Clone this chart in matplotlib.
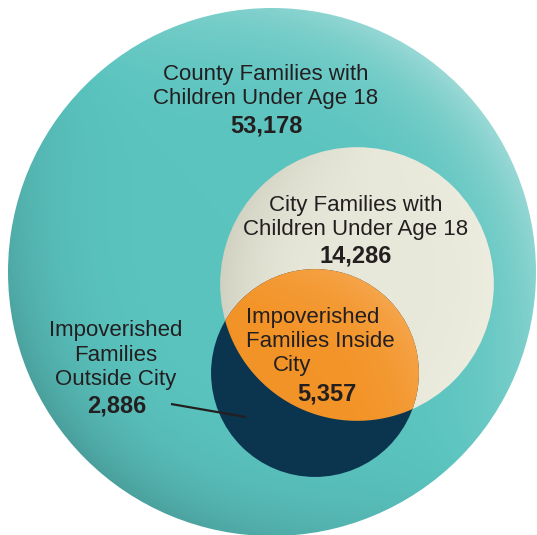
import numpy as np
import matplotlib
matplotlib.use("Agg")
import matplotlib.pyplot as plt
from matplotlib.patches import Circle, PathPatch
from matplotlib.path import Path

# --- Andmed ---
groups = ["County Families with\nChildren Under Age 18",
          "City Families with\nChildren Under Age 18",
          "Impoverished\nFamilies Inside\nCity",
          "Impoverished\nFamilies\nOutside City"]
county_total = 53178
city_total = 14286
poor_inside = 5357
poor_outside = 2886

# --- Paigutus (pikslites, y alla) ---
W, H = 537, 535
R_COUNTY = 264
county_c = (272, 272)
city_c = (357, 284)
poor_c = (315, 373)

# raadiused pindala järgi
r_county = R_COUNTY
r_city = R_COUNTY * np.sqrt(city_total / county_total)
r_poor = R_COUNTY * np.sqrt((poor_inside + poor_outside) / county_total)

TXT = "#231f20"
FONT = "Liberation Sans"
FS = 16
FS_NUM = 17


def hex2rgb(h):
    h = h.lstrip("#")
    return np.array([int(h[i:i + 2], 16) / 255 for i in (0, 2, 4)])


def shaded(ax, center, r, base, light, dark, clip, direction=(1, -1), power=3.0, n=600):
    """Gradient ringi sees, klipitud antud patchiga"""
    cx, cy = center
    x0, x1, y0, y1 = cx - r, cx + r, cy - r, cy + r
    xs = np.linspace(x0, x1, n)
    ys = np.linspace(y0, y1, n)
    X, Y = np.meshgrid(xs, ys)
    dx, dy = (X - cx) / r, (Y - cy) / r
    d = np.array(direction, float)
    d /= np.linalg.norm(d)
    t = dx * d[0] + dy * d[1]
    rr = np.clip(np.sqrt(dx ** 2 + dy ** 2), 0, 1)
    w = rr ** power
    b, lt, dk = hex2rgb(base), hex2rgb(light), hex2rgb(dark)
    img = np.empty(X.shape + (3,))
    pos = np.clip(t, 0, 1) * w
    neg = np.clip(-t, 0, 1) * w
    for k in range(3):
        img[..., k] = b[k] + pos * (lt[k] - b[k]) + neg * (dk[k] - b[k])
    im = ax.imshow(np.clip(img, 0, 1), extent=(x0, x1, y0, y1), origin="lower",
                   interpolation="bilinear", zorder=clip.get_zorder())
    im.set_clip_path(clip)


def lens_path(c1, r1, c2, r2, n=200):
    """Kahe ringi ühisosa kontuur"""
    c1, c2 = np.array(c1, float), np.array(c2, float)
    d = np.linalg.norm(c2 - c1)
    a = (r1 ** 2 - r2 ** 2 + d ** 2) / (2 * d)
    h = np.sqrt(r1 ** 2 - a ** 2)
    u = (c2 - c1) / d
    p = c1 + a * u
    perp = np.array([-u[1], u[0]])
    pa, pb = p + h * perp, p - h * perp

    def ang(c, q):
        return np.arctan2(q[1] - c[1], q[0] - c[0])

    def arc(c, r, q_from, q_to, inside_of, r_in):
        a0, a1 = ang(c, q_from), ang(c, q_to)
        for sweep in (a1 - a0, a1 - a0 - 2 * np.pi, a1 - a0 + 2 * np.pi):
            mid = a0 + sweep / 2
            m = c + r * np.array([np.cos(mid), np.sin(mid)])
            if np.linalg.norm(m - inside_of) < r_in and abs(sweep) < 2 * np.pi:
                th = a0 + np.linspace(0, sweep, n)
                return np.column_stack([c[0] + r * np.cos(th), c[1] + r * np.sin(th)])
        return np.empty((0, 2))

    s1 = arc(c1, r1, pa, pb, c2, r2)
    s2 = arc(c2, r2, pb, pa, c1, r1)
    verts = np.vstack([s1, s2, s1[:1]])
    codes = [Path.MOVETO] + [Path.LINETO] * (len(verts) - 2) + [Path.CLOSEPOLY]
    return Path(verts, codes)


def lines(ax, x, ys, text, ha="center", xs=None):
    """Mitmerealine tekst, iga rida oma baasjoonel"""
    for i, (y, s) in enumerate(zip(ys, text.split("\n"))):
        xx = xs[i] if xs else x
        ax.text(xx, y, s, ha=ha, va="baseline", fontsize=FS, family=FONT,
                color=TXT, zorder=10)


def number(ax, x, y, val):
    ax.text(x, y, f"{val:,}", ha="center", va="baseline", fontsize=FS_NUM,
            fontweight="bold", family=FONT, color=TXT, zorder=10)


fig = plt.figure(figsize=(W / 100, H / 100), dpi=100)
ax = fig.add_axes([0, 0, 1, 1])
ax.axis("off")

# maakond
c_county = Circle(county_c, r_county, facecolor="none", edgecolor="none", zorder=1)
ax.add_patch(c_county)
shaded(ax, county_c, r_county, "#5bc4bf", "#9ad9d6", "#4a9f9c", c_county,
       direction=(1, -0.9), power=4.0)

# linn
c_city = Circle(city_c, r_city, facecolor="none", edgecolor="none", zorder=2)
ax.add_patch(c_city)
shaded(ax, city_c, r_city, "#e8e8da", "#ececdf", "#d0d1c1", c_city,
       direction=(1, 0.1), power=2.0)

# vaesed pered (tumesinine)
c_poor = Circle(poor_c, r_poor, facecolor="#0b354f", edgecolor="none", zorder=3)
ax.add_patch(c_poor)

# ühisosa (oranž)
lens = PathPatch(lens_path(city_c, r_city, poor_c, r_poor), facecolor="none",
                 edgecolor="none", zorder=4)
ax.add_patch(lens)
shaded(ax, poor_c, r_poor * 1.3, "#f39428", "#f8b66f", "#ef8c1f", lens,
       direction=(1, -1), power=1.5)

# --- Tekstid ---
lines(ax, 266, [80, 104], groups[0])
number(ax, 266, 133, county_total)

lines(ax, 356, [211, 235], groups[1])
number(ax, 356, 263, city_total)

lines(ax, None, [323, 347, 371], groups[2], ha="left", xs=[246, 246, 273])
number(ax, 327, 400, poor_inside)

lines(ax, 116, [336, 361, 385], groups[3])
number(ax, 117, 413, poor_outside)
ax.plot([171, 246], [404, 417], color=TXT, lw=1.6, solid_capstyle="butt", zorder=9)

ax.set_xlim(0, W)
ax.set_ylim(H, 0)
ax.set_aspect("auto")
fig.savefig("out.png", dpi=100, facecolor="white")
